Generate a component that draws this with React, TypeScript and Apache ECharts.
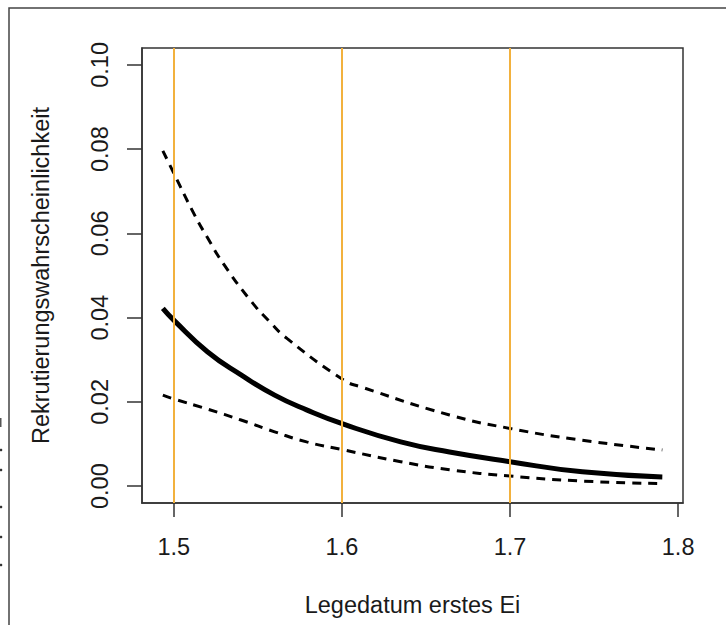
import React, { useEffect, useRef } from "react";
import * as echarts from "echarts";

// x positions (Legedatum erstes Ei) and values for each curve
const xFit = [1.4935, 1.5, 1.52, 1.54, 1.56, 1.579, 1.601, 1.635, 1.664, 1.7, 1.743, 1.7906];
const yFit = [0.0422, 0.0394, 0.0319, 0.0264, 0.0216, 0.0181, 0.0147, 0.0105, 0.0081, 0.0058, 0.0034, 0.0022];

const xUpper = [1.4935, 1.5, 1.5122, 1.52, 1.53, 1.5458, 1.5566, 1.5675, 1.601, 1.611, 1.664, 1.7, 1.743, 1.7906];
const yUpper = [0.0796, 0.0743, 0.0645, 0.059, 0.0525, 0.044, 0.0392, 0.035, 0.0252, 0.0236, 0.0169, 0.0137, 0.0109, 0.0086];

const xLower = [1.4935, 1.5, 1.52, 1.54, 1.56, 1.579, 1.601, 1.635, 1.664, 1.7, 1.743, 1.7906];
const yLower = [0.0216, 0.0207, 0.0183, 0.0157, 0.0129, 0.0105, 0.0086, 0.0058, 0.0039, 0.0024, 0.0012, 0.0006];

const xTicks = [1.5, 1.6, 1.7, 1.8];
const yTicks = [0, 0.02, 0.04, 0.06, 0.08, 0.1];
const vLines = [1.5, 1.6, 1.7];

const xTitle = "Legedatum erstes Ei";
const yTitle = "Rekrutierungswahrscheinlichkeit";

const FONT = "'Liberation Sans', Arial, Helvetica, sans-serif";
const AXIS = "#333333";
const ORANGE = "#F2B13E";
const FS = 23.5;

const pairs = (xs: number[], ys: number[]) => xs.map((x, i) => [x, ys[i]]);

export default function App() {
  const ref = useRef<HTMLDivElement>(null);
  useEffect(() => {
    if (!ref.current) return;
    const chart = echarts.init(ref.current, null, { renderer: "svg" });
    chart.setOption({
      animation: false,
      backgroundColor: "#ffffff",
      textStyle: { fontFamily: FONT },
      grid: {
        left: 142,
        top: 48,
        right: 43,
        bottom: 122,
        show: true,
        borderColor: AXIS,
        borderWidth: 1.5,
        backgroundColor: "transparent",
      },
      xAxis: {
        type: "value",
        min: 1.4811,
        max: 1.8029,
        name: xTitle,
        nameLocation: "middle",
        nameGap: 90,
        nameTextStyle: { fontSize: FS, color: "#1a1a1a", fontFamily: FONT },
        axisLine: { show: true, onZero: false, lineStyle: { color: AXIS, width: 1.5 } },
        axisTick: {
          show: true,
          length: 14,
          inside: false,
          customValues: xTicks,
          lineStyle: { color: AXIS, width: 1.5 },
        },
        axisLabel: {
          customValues: xTicks,
          margin: 32,
          fontSize: FS,
          color: "#1a1a1a",
          fontFamily: FONT,
          formatter: (v: number) => v.toFixed(1),
        },
        splitLine: { show: false },
      },
      yAxis: {
        type: "value",
        min: -0.004,
        max: 0.104,
        name: yTitle,
        nameLocation: "middle",
        nameGap: 89,
        nameRotate: 90,
        nameTextStyle: { fontSize: FS, color: "#1a1a1a", fontFamily: FONT },
        axisLine: { show: true, onZero: false, lineStyle: { color: AXIS, width: 1.5 } },
        axisTick: {
          show: true,
          length: 15,
          inside: false,
          customValues: yTicks,
          lineStyle: { color: AXIS, width: 1.5 },
        },
        axisLabel: {
          customValues: yTicks,
          rotate: 90,
          margin: 30,
          fontSize: FS,
          color: "#1a1a1a",
          fontFamily: FONT,
          formatter: (v: number) => v.toFixed(2),
        },
        splitLine: { show: false },
      },
      graphic: [
        {
          type: "rect",
          shape: { x: 9, y: 8, width: 900, height: 800 },
          style: { fill: "none", stroke: "#444444", lineWidth: 1.5 },
          silent: true,
        },
        { type: "circle", shape: { cx: 1, cy: 450, r: 1.3 }, style: { fill: "#333" } },
        { type: "circle", shape: { cx: 1, cy: 470, r: 1.3 }, style: { fill: "#333" } },
        { type: "circle", shape: { cx: 1, cy: 507, r: 1.3 }, style: { fill: "#333" } },
        { type: "circle", shape: { cx: 1, cy: 537, r: 1.3 }, style: { fill: "#333" } },
        { type: "circle", shape: { cx: 1, cy: 565, r: 1.3 }, style: { fill: "#333" } },
        { type: "rect", shape: { x: 0, y: 418, width: 1.5, height: 9 }, style: { fill: "#555" } },
      ],
      series: [
        {
          type: "line",
          data: [],
          z: 1,
          silent: true,
          markLine: {
            silent: true,
            symbol: ["none", "none"],
            label: { show: false },
            lineStyle: { color: ORANGE, width: 2, type: "solid" },
            data: vLines.map((v) => ({ xAxis: v })),
          },
        },
        {
          type: "line",
          data: pairs(xUpper, yUpper),
          smooth: 0.5,
          showSymbol: false,
          z: 3,
          lineStyle: { color: "#000", width: 3, type: [9, 7], cap: "butt" },
        },
        {
          type: "line",
          data: pairs(xLower, yLower),
          smooth: 0.5,
          showSymbol: false,
          z: 3,
          lineStyle: { color: "#000", width: 3, type: [9, 7], cap: "butt" },
        },
        {
          type: "line",
          data: pairs(xFit, yFit),
          smooth: 0.5,
          showSymbol: false,
          z: 4,
          lineStyle: { color: "#000", width: 5, cap: "butt" },
        },
      ],
    });
    return () => chart.dispose();
  }, []);
  return (
    <div
      ref={ref}
      style={{ position: "absolute", left: 0, top: 0, width: 726, height: 625 }}
    />
  );
}
